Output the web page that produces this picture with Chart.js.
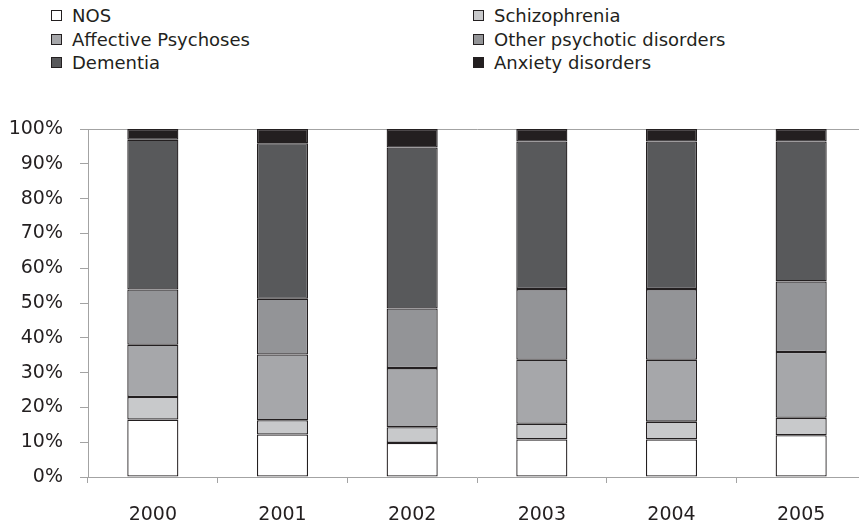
<!DOCTYPE html>
<html>
<head>
<meta charset="utf-8">
<script src="https://cdn.jsdelivr.net/npm/chart.js@4/dist/chart.umd.min.js"></script>
<style>
    html, body { margin: 0; padding: 0; background: #fff; overflow: hidden; }
    #wrap { position: relative; width: 859px; height: 526px; overflow: hidden; }
    #chart { position: absolute; left: 0; top: 0; }
    #legend {
        position: absolute; left: 51px; top: 4px;
        display: grid; grid-template-columns: 422px 300px;
        font-family: "DejaVu Sans", sans-serif; font-size: 18px; color: #231f20;
        line-height: 23.5px;
    }
    .item { display: flex; align-items: center; white-space: nowrap; }
    .box { width: 9px; height: 9px; border: 1px solid #231f20; margin-right: 10px; }
</style>
</head>
<body>
<div id="wrap">
    <div id="legend"></div>
    <canvas id="chart" width="866" height="526"></canvas>
</div>
<script>
// Data (percent of each year)
const years = ['2000', '2001', '2002', '2003', '2004', '2005'];
const seriesNames = ['NOS', 'Schizophrenia', 'Affective Psychoses', 'Other psychotic disorders', 'Dementia', 'Anxiety disorders'];
const nos = [16.5, 12.2, 9.8, 10.8, 10.8, 12.0];
const schizophrenia = [6.5, 4.1, 4.5, 4.5, 5.1, 5.0];
const affective = [15.0, 18.9, 17.0, 18.4, 17.8, 18.9];
const otherPsychotic = [15.9, 16.0, 17.1, 20.3, 20.3, 20.3];
const dementia = [43.0, 44.7, 46.3, 42.4, 42.4, 40.2];
const anxiety = [3.1, 4.1, 5.3, 3.6, 3.6, 3.6];
const seriesColors = ['#ffffff', '#c8c9cb', '#a6a7aa', '#939497', '#58595b', '#231f20'];

const values = [nos, schizophrenia, affective, otherPsychotic, dementia, anxiety];
const axisGray = '#a3a3a3';
const textColor = '#231f20';

const datasets = values.map((v, i) => ({
    label: seriesNames[i],
    data: v,
    backgroundColor: seriesColors[i],
    borderColor: '#231f20',
    borderWidth: 1.3,
    borderSkipped: false,
    barPercentage: 0.394,
    categoryPercentage: 1.0
}));

const ctx = document.getElementById('chart').getContext('2d');
const chart = new Chart(ctx, {
    type: 'bar',
    data: { labels: years, datasets: datasets },
    options: {
        responsive: false,
        animation: false,
        layout: { padding: { top: 129, left: 0, right: 0, bottom: 0 } },
        plugins: {
            legend: { display: false },
            tooltip: { enabled: false }
        },
        scales: {
            x: {
                stacked: true,
                offset: true,
                afterFit: s => { s.height = 49; },
                grid: {
                    offset: true,
                    drawOnChartArea: false,
                    color: axisGray,
                    tickColor: axisGray,
                    tickLength: 6
                },
                border: { color: axisGray, width: 1 },
                ticks: {
                    color: textColor,
                    padding: 21,
                    font: { family: 'DejaVu Sans', size: 19 }
                }
            },
            y: {
                stacked: true,
                min: 0,
                max: 100,
                afterFit: s => { s.width = 88; },
                grid: {
                    color: c => (c.tick && c.tick.value === 100) ? axisGray : 'rgba(0,0,0,0)',
                    tickColor: axisGray,
                    tickLength: 8
                },
                border: { color: axisGray, width: 1 },
                ticks: {
                    stepSize: 10,
                    color: textColor,
                    padding: 17,
                    font: { family: 'DejaVu Sans', size: 19 },
                    callback: v => v + '%'
                }
            }
        }
    }
});

// HTML legend, two columns, built from the chart's datasets
const legendEl = document.getElementById('legend');
chart.data.datasets.forEach(ds => {
    const item = document.createElement('div');
    item.className = 'item';
    const box = document.createElement('span');
    box.className = 'box';
    box.style.background = ds.backgroundColor;
    const txt = document.createElement('span');
    txt.textContent = ds.label;
    item.appendChild(box);
    item.appendChild(txt);
    legendEl.appendChild(item);
});
</script>
</body>
</html>
